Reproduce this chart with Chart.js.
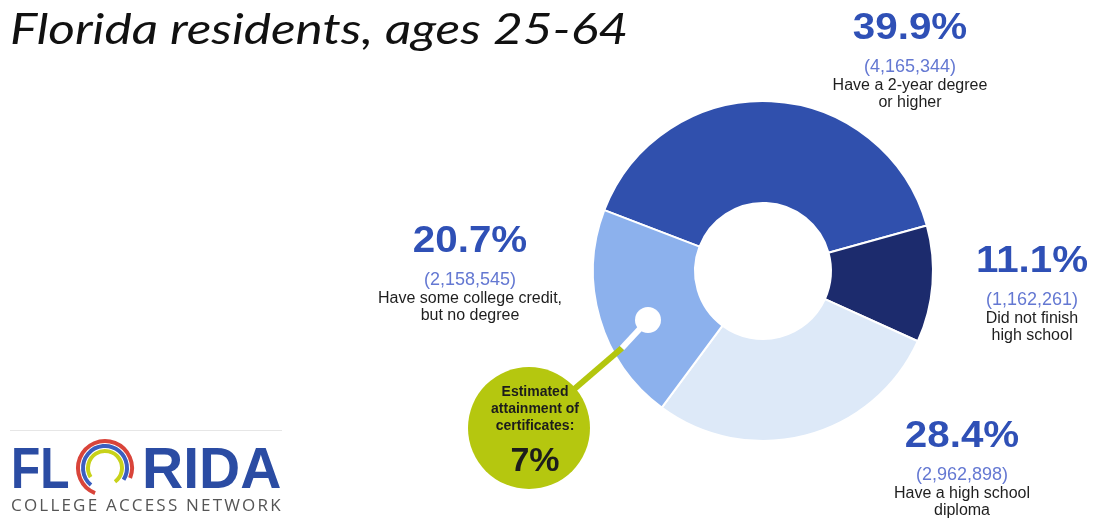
<!DOCTYPE html>
<html>
<head>
<meta charset="utf-8">
<script src="https://cdn.jsdelivr.net/npm/chart.js@4.4.0/dist/chart.umd.min.js"></script>
<style>
  html, body { margin: 0; padding: 0; background: #fff; }
  canvas { display: block; }
</style>
</head>
<body>
<canvas id="chart" width="1093" height="521"></canvas>
<script>
//Chart values
const categories = [
  ["Have a 2-year degree", "or higher"],
  ["Did not finish", "high school"],
  ["Have a high school", "diploma"],
  ["Have some college credit,", "but no degree"],
];
const shares = [39.9, 11.1, 28.4, 20.7];
const counts = [4165344, 1162261, 2962898, 2158545];
const certificateShare = 7;
const titleText = "Florida residents, ages 25-64";

//slice colours, same order as the values
const sliceColors = ["#3050ad", "#1c2b6d", "#dde9f8", "#8cb1ed"];
//where each label block sits, measured from the donut centre
const labelSpots = [
  { dx: 147, dy: -232 },
  { dx: 269, dy: 1 },
  { dx: 199, dy: 176 },
  { dx: -293, dy: -19 },
];

//draw the outside labels, the certificate bubble, the title and the logo
const overlay = {
  id: "overlay",
  afterDatasetsDraw(chart) {
    const ctx = chart.ctx;
    const arc = chart.getDatasetMeta(0).data[0];
    const cx = arc.x, cy = arc.y;
    ctx.save();
    ctx.textAlign = "center";
    shares.forEach((v, i) => {
      const x = cx + labelSpots[i].dx, y = cy + labelSpots[i].dy;
      ctx.textBaseline = "alphabetic";
      ctx.fillStyle = "#2f50b6";
      ctx.font = "bold 36px 'Liberation Sans', Arial, sans-serif";
      ctx.save();
      ctx.translate(x, y);
      ctx.scale(1.12, 1);
      ctx.fillText(v.toFixed(1) + "%", 0, 0);
      ctx.restore();
      ctx.textBaseline = "middle";
      ctx.fillStyle = "#6478d2";
      ctx.font = "18px 'Liberation Sans', Arial, sans-serif";
      ctx.fillText("(" + counts[i].toLocaleString("en-US") + ")", x, y + 28);
      ctx.fillStyle = "#1e1e1e";
      ctx.font = "16px 'Liberation Sans', Arial, sans-serif";
      categories[i].forEach((line, j) => ctx.fillText(line, x, y + 47 + j * 17));
    });

    //connector from the bubble into the college-credit slice
    const dot = { x: cx - 115, y: cy + 49 };
    const bend = { x: cx - 141, y: cy + 77 };
    const bub = { x: cx - 234, y: cy + 157, r: 61 };
    ctx.lineCap = "butt";
    ctx.lineWidth = 6;
    ctx.strokeStyle = "#b3c60e";
    ctx.beginPath();
    ctx.moveTo(bub.x, bub.y);
    ctx.lineTo(bend.x, bend.y);
    ctx.stroke();
    ctx.strokeStyle = "#ffffff";
    ctx.beginPath();
    ctx.moveTo(bend.x, bend.y);
    ctx.lineTo(dot.x, dot.y);
    ctx.stroke();
    ctx.fillStyle = "#ffffff";
    ctx.beginPath();
    ctx.arc(dot.x, dot.y, 13, 0, Math.PI * 2);
    ctx.fill();
    ctx.fillStyle = "#b5c70f";
    ctx.beginPath();
    ctx.arc(bub.x, bub.y, bub.r, 0, Math.PI * 2);
    ctx.fill();
    ctx.fillStyle = "#1c1c1c";
    ctx.font = "bold 14px 'Liberation Sans', Arial, sans-serif";
    ["Estimated", "attainment of", "certificates:"].forEach((t, j) =>
      ctx.fillText(t, bub.x + 6, bub.y - 36 + j * 17));
    ctx.font = "bold 34px 'Liberation Sans', Arial, sans-serif";
    ctx.textBaseline = "alphabetic";
    ctx.fillText(certificateShare + "%", bub.x + 6, bub.y + 43);

    //title
    ctx.textAlign = "left";
    ctx.fillStyle = "#111";
    ctx.font = "italic 42px Lato, 'Open Sans', sans-serif";
    const tw = ctx.measureText(titleText).width;
    ctx.save();
    ctx.translate(10, 44);
    ctx.scale(618 / tw, 1);
    ctx.fillText(titleText, 0, 0);
    ctx.restore();

    //logo
    ctx.strokeStyle = "#e6e6e6";
    ctx.lineWidth = 1;
    ctx.beginPath();
    ctx.moveTo(10, 430.5);
    ctx.lineTo(282, 430.5);
    ctx.stroke();
    ctx.fillStyle = "#2b4ca3";
    ctx.font = "bold 57px 'Liberation Sans', Arial, sans-serif";
    ctx.save();
    ctx.translate(11, 488);
    ctx.scale(0.84, 1);
    ctx.fillText("FL", 0, 0);
    ctx.restore();
    ctx.fillText("RIDA", 142, 488);
    const rings = [["#d9443a", 27, 0.62, 2.12], ["#3b5fc0", 22, 0.72, 2.18], ["#c8d21a", 17, 0.82, 2.3]];
    ctx.lineWidth = 4;
    rings.forEach(([col, r, a0, a1]) => {
      ctx.strokeStyle = col;
      ctx.beginPath();
      ctx.arc(105, 468, r, Math.PI * a0, Math.PI * a1);
      ctx.stroke();
    });
    ctx.fillStyle = "#555";
    ctx.font = "17px 'Open Sans', sans-serif";
    ctx.letterSpacing = "2.2px";
    ctx.fillText("COLLEGE ACCESS NETWORK", 11, 511);
    ctx.restore();
  },
};

const chart = new Chart(document.getElementById("chart"), {
  type: "doughnut",
  plugins: [overlay],
  data: {
    labels: categories,
    datasets: [
      {
        data: shares,
        backgroundColor: sliceColors,
        borderColor: "#ffffff",
        borderWidth: 2,
      },
    ],
  },
  options: {
    responsive: false,
    animation: false,
    rotation: -69,
    cutout: "40%",
    layout: { padding: { left: 592, right: 159, top: 100, bottom: 79 } },
    plugins: {
      legend: { display: false },
      tooltip: { enabled: false },
    },
  },
});
</script>
</body>
</html>
